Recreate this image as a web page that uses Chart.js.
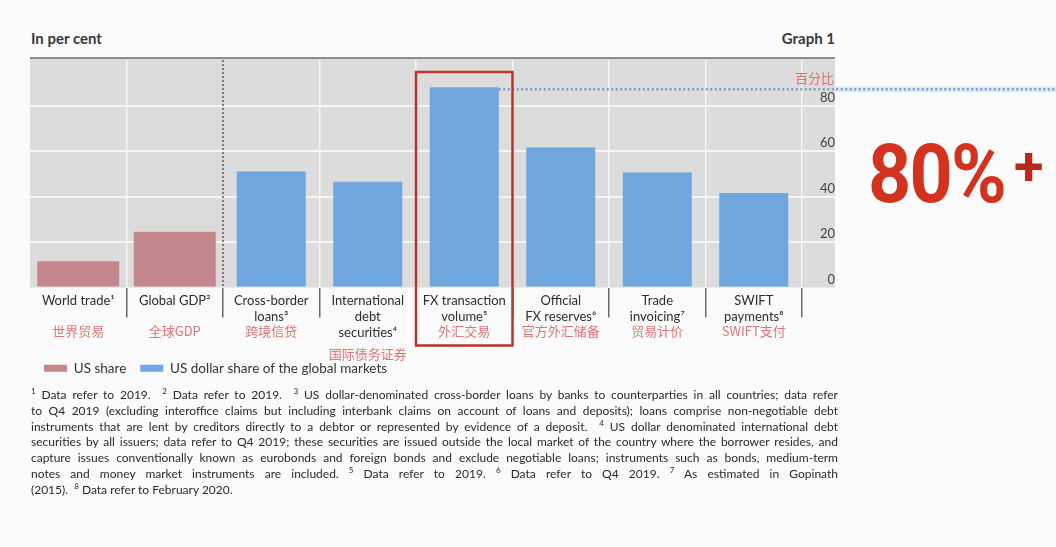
<!DOCTYPE html>
<html>
<head>
<meta charset="utf-8">
<script src="https://cdn.jsdelivr.net/npm/chart.js@4.4.1/dist/chart.umd.min.js"></script>
<style>
    html, body { margin: 0; padding: 0; background: #fbfbfb; }
    body { width: 1056px; height: 547px; position: relative; overflow: hidden; font-family: Lato, 'Noto Sans CJK SC', sans-serif; color: #333; }
    #wrap { position: absolute; left: 0; top: 0; width: 1056px; height: 410px; }
    .head { position: absolute; top: 29px; font-size: 15px; font-weight: 700; color: #3a3a3a; }
    #big { position: absolute; left: 868px; top: 126px; font-family: Roboto, sans-serif; font-weight: 700; color: #d3321f; white-space: nowrap; }
    #big .n { font-size: 82px; letter-spacing: -2px; display: inline-block; transform: scaleX(0.92); transform-origin: left; }
    #big .p { font-size: 54px; position: absolute; left: 146px; top: 9px; color: #b52a1c; }
    #notes { position: absolute; left: 31px; top: 387px; width: 807px; font-size: 12px; line-height: 15.8px; color: #2a2a2a; }
    #notes div { text-align: justify; text-align-last: justify; white-space: nowrap; }
    #notes div.last { text-align-last: left; }
    #notes sup { font-size: 8px; line-height: 0; vertical-align: 5px; }
</style>
</head>
<body>
<div class="head" style="left:31px;">In per cent</div>
<div class="head" style="right:221px;">Graph 1</div>
<div id="wrap"><canvas id="chart"></canvas></div>
<div id="big"><span class="n">80%</span><span class="p">+</span></div>
<div id="notes">
    <div><sup>1</sup> Data refer to 2019. &nbsp;<sup>2</sup> Data refer to 2019. &nbsp;<sup>3</sup> US dollar-denominated cross-border loans by banks to counterparties in all countries; data refer</div>
    <div>to Q4 2019 (excluding interoffice claims but including interbank claims on account of loans and deposits); loans comprise non-negotiable debt</div>
    <div>instruments that are lent by creditors directly to a debtor or represented by evidence of a deposit. &nbsp;<sup>4</sup> US dollar denominated international debt</div>
    <div>securities by all issuers; data refer to Q4 2019; these securities are issued outside the local market of the country where the borrower resides, and</div>
    <div>capture issues conventionally known as eurobonds and foreign bonds and exclude negotiable loans; instruments such as bonds, medium-term</div>
    <div>notes and money market instruments are included. <sup>5</sup> Data refer to 2019. <sup>6</sup> Data refer to Q4 2019. <sup>7</sup> As estimated in Gopinath</div>
    <div class="last">(2015). &nbsp;<sup>8</sup> Data refer to February 2020.</div>
</div>

<script>
// Danh mục (nhãn tiếng Anh, nhiều dòng)
const categories = [
    ['World trade\u00b9'],
    ['Global GDP\u00b2'],
    ['Cross-border', 'loans\u00b3'],
    ['International', 'debt', 'securities\u2074'],
    ['FX transaction', 'volume\u2075'],
    ['Official', 'FX reserves\u2076'],
    ['Trade', 'invoicing\u2077'],
    ['SWIFT', 'payments\u2078']
];
const categoriesCN = ['世界贸易', '全球GDP', '跨境信贷', '国际债务证券', '外汇交易', '官方外汇储备', '贸易计价', 'SWIFT支付'];

// Số liệu (%)
const usShare = [11.5, 24.5, null, null, null, null, null, null];
const usdShare = [null, null, 51, 46.5, 88, 61.5, 50.5, 41.5];
const yTicks = [0, 20, 40, 60, 80];
const highlightIndex = 4;

const colorUS = '#c4878d';
const colorUSD = '#6fa7de';
const colorPlot = '#dcdcdc';
const fontFamily = "Lato, 'Noto Sans CJK SC', sans-serif";

// Nền xám, đường viền trên, đường chấm phân cách
const plotDecor = {
    id: 'plotDecor',
    beforeDraw(chart) {
        const { ctx, chartArea } = chart;
        const y = chart.scales.y;
        ctx.save();
        ctx.fillStyle = colorPlot;
        ctx.fillRect(chartArea.left, chartArea.top - 2, y.right - chartArea.left, chartArea.bottom - chartArea.top + 2);
        ctx.strokeStyle = '#8d8d8d';
        ctx.lineWidth = 2;
        ctx.beginPath();
        ctx.moveTo(chartArea.left, chartArea.top - 2);
        ctx.lineTo(y.right, chartArea.top - 2);
        ctx.stroke();
        ctx.restore();
    },
    beforeDatasetsDraw(chart) {
        const { ctx, chartArea } = chart;
        const x = chart.scales.x;
        const sep = (x.getPixelForValue(1) + x.getPixelForValue(2)) / 2;
        ctx.save();
        ctx.strokeStyle = '#7a7a7a';
        ctx.lineWidth = 2;
        ctx.setLineDash([2, 2]);
        ctx.beginPath();
        ctx.moveTo(sep, chartArea.top);
        ctx.lineTo(sep, chartArea.bottom);
        ctx.stroke();
        ctx.restore();
    },
    afterDraw(chart) {
        const { ctx, chartArea, width } = chart;
        const x = chart.scales.x;
        const y = chart.scales.y;
        const step = x.getPixelForValue(1) - x.getPixelForValue(0);

        // Nhãn tiếng Trung dưới nhãn trục
        ctx.save();
        ctx.font = "13px 'Noto Sans CJK SC', sans-serif";
        ctx.fillStyle = 'rgba(222, 90, 90, 0.85)';
        ctx.textAlign = 'center';
        ctx.textBaseline = 'middle';
        categoriesCN.forEach((t, i) => {
            const lines = categories[i].length;
            ctx.fillText(t, x.getPixelForValue(i), x.top + (lines > 2 ? 67 : 44));
        });
        ctx.textAlign = 'right';
        ctx.fillText('百分比', y.right - 1, chartArea.top + 18);

        // Đường chấm ngang tại đỉnh cột FX
        const barMeta = chart.getDatasetMeta(1).data[highlightIndex];
        const yy = y.getPixelForValue(usdShare[highlightIndex]) + 2;
        ctx.strokeStyle = 'rgba(170, 200, 235, 0.35)';
        ctx.lineWidth = 6;
        ctx.beginPath();
        ctx.moveTo(y.right, yy);
        ctx.lineTo(width, yy);
        ctx.stroke();
        ctx.strokeStyle = '#7f9cc4';
        ctx.lineWidth = 2.5;
        ctx.setLineDash([2, 2.5]);
        ctx.beginPath();
        ctx.moveTo(barMeta.x + barMeta.width / 2, yy);
        ctx.lineTo(width, yy);
        ctx.stroke();
        ctx.setLineDash([]);

        // Khung đỏ quanh cột FX
        const cx = x.getPixelForValue(highlightIndex);
        ctx.strokeStyle = '#b9352a';
        ctx.lineWidth = 2.5;
        ctx.strokeRect(cx - step / 2, chartArea.top + 12, step, x.top + 58 - chartArea.top - 12);
        ctx.restore();
    }
};

new Chart(document.getElementById('chart'), {
    type: 'bar',
    data: {
        labels: categories,
        datasets: [
            {
                label: 'US share',
                data: usShare,
                backgroundColor: colorUS,
                grouped: false,
                barPercentage: 0.85,
                categoryPercentage: 1
            },
            {
                label: 'US dollar share of the global markets',
                data: usdShare,
                backgroundColor: colorUSD,
                grouped: false,
                barPercentage: 0.715,
                categoryPercentage: 1
            }
        ]
    },
    options: {
        responsive: true,
        maintainAspectRatio: false,
        animation: false,
        layout: { padding: { top: 60, left: 30, right: 221, bottom: 25 } },
        plugins: {
            legend: {
                position: 'bottom',
                align: 'start',
                labels: {
                    boxWidth: 23,
                    boxHeight: 7,
                    padding: 14,
                    color: '#333',
                    font: { size: 13.5, family: fontFamily }
                }
            },
            tooltip: { enabled: false }
        },
        scales: {
            x: {
                grid: {
                    offset: true,
                    lineWidth: 1.5,
                    color: c => (c.index === 0 || c.index === 2) ? 'rgba(0,0,0,0)' : '#f6f6f6',
                    tickColor: c => c.index === 0 ? 'rgba(0,0,0,0)' : '#6a6a6a',
                    tickLength: 30
                },
                border: { display: false },
                ticks: {
                    padding: -24,
                    color: '#2d2d2d',
                    font: { size: 13, family: fontFamily }
                },
                // chừa chỗ cho nhãn tiếng Trung
                afterFit(scale) { scale.height = 60; }
            },
            y: {
                position: 'right',
                min: 0,
                max: 100,
                afterBuildTicks(scale) { scale.ticks = yTicks.map(v => ({ value: v })); },
                afterFit(scale) { scale.width = 33; },
                grid: {
                    lineWidth: 2,
                    color: c => c.tick && c.tick.value === 0 ? 'rgba(0,0,0,0)' : '#f6f6f6',
                    tickColor: c => c.tick && c.tick.value === 0 ? 'rgba(0,0,0,0)' : '#f6f6f6',
                    tickLength: 33
                },
                border: { display: false },
                ticks: {
                    crossAlign: 'far',
                    padding: -16,
                    labelOffset: -8,
                    color: '#444',
                    font: { size: 13, family: fontFamily }
                }
            }
        }
    },
    plugins: [plotDecor]
});
</script>
</body>
</html>
